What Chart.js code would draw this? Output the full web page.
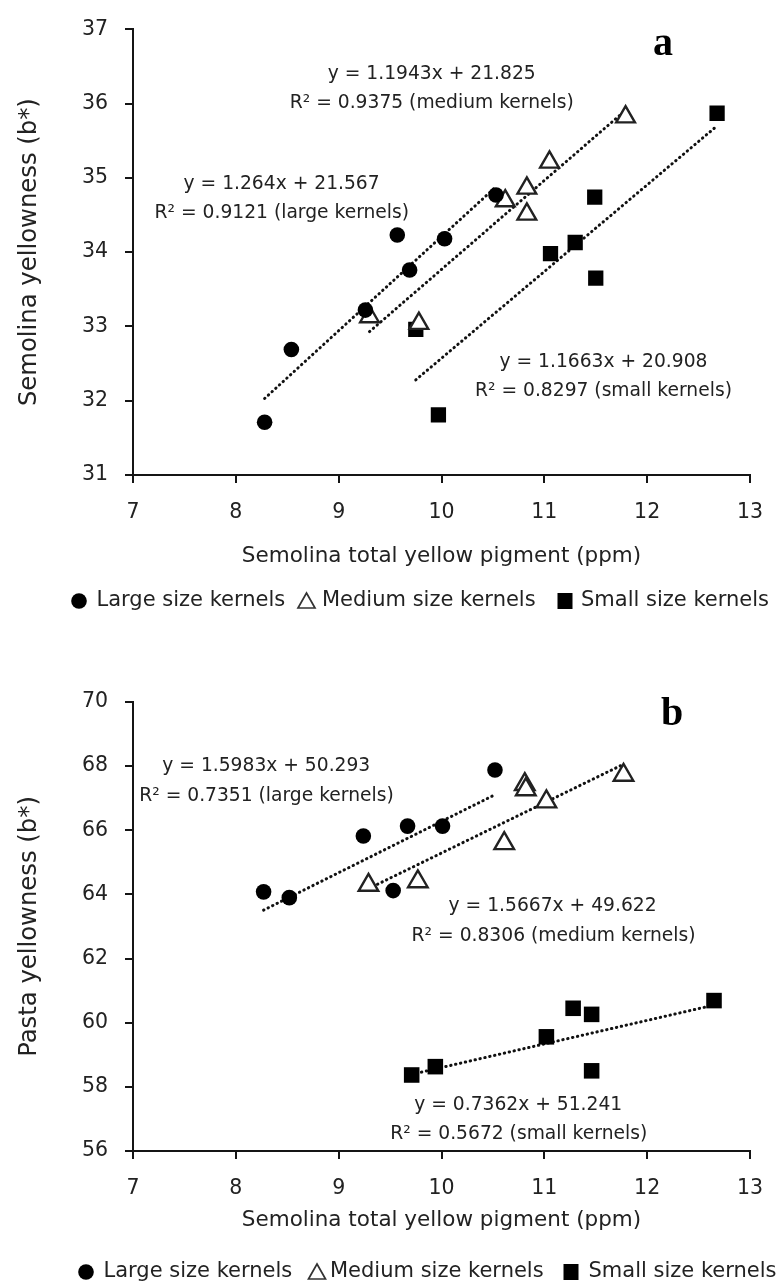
<!DOCTYPE html>
<html>
<head>
<meta charset="utf-8">
<script src="https://cdn.jsdelivr.net/npm/chart.js@4.4.1/dist/chart.umd.min.js"></script>
<style>
html,body{margin:0;padding:0;background:#fff;}
#wrap{position:relative;width:781px;height:1287px;background:#fff;}
canvas{display:block;position:absolute;left:0;}
#c1{top:0;}
#c2{top:640px;}
</style>
</head>
<body>
<div id="wrap">
<canvas id="c1" width="781" height="640"></canvas>
<canvas id="c2" width="781" height="647"></canvas>
</div>
<script>
// ---------- shared labels ----------
const seriesNames = ['Large size kernels', 'Medium size kernels', 'Small size kernels'];
const xTitle = 'Semolina total yellow pigment (ppm)';
const xTicks = [7, 8, 9, 10, 11, 12, 13];

// ---------- panel a : semolina yellowness ----------
const yTitleA = 'Semolina yellowness (b*)';
const yTicksA = [31, 32, 33, 34, 35, 36, 37];
const largeAx  = [8.28, 8.54, 9.26, 9.57, 9.69, 10.03, 10.53];
const largeAy  = [31.71, 32.69, 33.22, 34.23, 33.76, 34.18, 34.77];
const mediumAx = [9.30, 9.78, 10.62, 10.83, 10.83, 11.05, 11.79];
const mediumAy = [33.13, 33.04, 34.69, 34.86, 34.51, 35.21, 35.82];
const smallAx  = [9.75, 9.97, 11.06, 11.30, 11.49, 11.50, 12.68];
const smallAy  = [32.96, 31.81, 33.98, 34.13, 34.74, 33.65, 35.87];
// trendline end points (x, y)
const trendLargeA  = [[8.28, 32.03], [10.53, 34.88]];
const trendMediumA = [[9.30, 32.93], [11.79, 35.91]];
const trendSmallA  = [[9.75, 32.28], [12.68, 35.70]];
const notesA = [
  ['y = 1.1943x + 21.825', 9.905, 36.39],
  ['R\u00B2 = 0.9375 (medium kernels)', 9.905, 36.00],
  ['y = 1.264x + 21.567', 8.445, 34.92],
  ['R\u00B2 = 0.9121 (large kernels)', 8.447, 34.53],
  ['y = 1.1663x + 20.908', 11.575, 32.52],
  ['R\u00B2 = 0.8297 (small kernels)', 11.575, 32.13]
];

// ---------- panel b : pasta yellowness ----------
const yTitleB = 'Pasta yellowness (b*)';
const yTicksB = [56, 58, 60, 62, 64, 66, 68, 70];
const largeBx  = [8.27, 8.52, 9.24, 9.53, 9.67, 10.01, 10.52];
const largeBy  = [64.08, 63.90, 65.82, 64.12, 66.13, 66.13, 67.88];
const mediumBx = [9.29, 9.77, 10.61, 10.81, 10.82, 11.02, 11.77];
const mediumBy = [64.29, 64.40, 65.59, 67.43, 67.27, 66.89, 67.72];
const smallBx  = [9.71, 9.94, 11.02, 11.28, 11.46, 11.46, 12.65];
const smallBy  = [58.37, 58.63, 59.56, 60.45, 60.26, 58.50, 60.69];
const trendLargeB  = [[8.27, 63.51], [10.52, 67.11]];
const trendMediumB = [[9.29, 64.18], [11.77, 68.06]];
const trendSmallB  = [[9.71, 58.39], [12.65, 60.55]];
const notesB = [
  ['y = 1.5983x + 50.293', 8.296, 68.00],
  ['R\u00B2 = 0.7351 (large kernels)', 8.298, 67.07],
  ['y = 1.5667x + 49.622', 11.08, 63.64],
  ['R\u00B2 = 0.8306 (medium kernels)', 11.09, 62.70],
  ['y = 0.7362x + 51.241', 10.746, 57.43],
  ['R\u00B2 = 0.5672 (small kernels)', 10.751, 56.53]
];

// ---------- helpers ----------
const TXT = '#222';
const AX = '#151515';
Chart.defaults.font.family = '"DejaVu Sans", sans-serif';
Chart.defaults.color = TXT;

function pts(xs, ys) { return xs.map((x, i) => ({x: x, y: ys[i]})); }
function seg(p) { return p.map(q => ({x: q[0], y: q[1]})); }

function pointSet(label, data, style, r, bg, bc, bw) {
  return {label, data, pointStyle: style, pointRadius: r, pointHoverRadius: r,
    backgroundColor: bg, borderColor: bc, borderWidth: bw, showLine: false, order: 1};
}
function trendSet(data) {
  return {label: 'trend', data, showLine: true, pointRadius: 0, borderColor: '#111',
    borderWidth: 3, borderDash: [0.4, 4.6], borderCapStyle: 'round', fill: false, order: 2};
}

const panelPlugin = {
  id: 'panelText',
  afterDraw(chart, args, o) {
    const ctx = chart.ctx, sx = chart.scales.x, sy = chart.scales.y;
    ctx.save();
    // regression equations
    ctx.fillStyle = TXT;
    ctx.font = '18.7px "DejaVu Sans"';
    ctx.textAlign = 'center';
    ctx.textBaseline = 'middle';
    o.notes.forEach(n => ctx.fillText(n[0], sx.getPixelForValue(n[1]), sy.getPixelForValue(n[2])));
    // panel letter
    ctx.fillStyle = '#000';
    ctx.font = 'bold 40px "Liberation Serif"';
    ctx.textBaseline = 'alphabetic';
    ctx.fillText(o.letter, o.letterX, o.letterY);
    // legend
    const L = o.legend, ly = L.y;
    ctx.fillStyle = '#000';
    ctx.beginPath(); ctx.arc(L.m[0], ly, 7.8, 0, Math.PI * 2); ctx.fill();
    ctx.strokeStyle = '#333'; ctx.lineWidth = 1.7; ctx.lineJoin = 'miter';
    ctx.beginPath();
    ctx.moveTo(L.m[1], ly - 8); ctx.lineTo(L.m[1] + 8.5, ly + 7); ctx.lineTo(L.m[1] - 8.5, ly + 7); ctx.closePath();
    ctx.stroke();
    ctx.fillRect(L.m[2] - 7.5, ly - 8, 15, 16);
    ctx.fillStyle = TXT;
    ctx.font = '21px "DejaVu Sans"';
    ctx.textAlign = 'left';
    ctx.textBaseline = 'middle';
    seriesNames.forEach((s, i) => ctx.fillText(s, L.t[i], ly));
    ctx.restore();
  }
};

function makeChart(id, cfg) {
  return new Chart(document.getElementById(id), {
    type: 'scatter',
    data: {datasets: cfg.datasets},
    plugins: [panelPlugin],
    options: {
      responsive: false,
      maintainAspectRatio: false,
      animation: false,
      events: [],
      layout: {padding: cfg.padding},
      plugins: {
        legend: {display: false},
        tooltip: {enabled: false},
        panelText: cfg.panel
      },
      scales: {
        x: {
          type: 'linear', min: 7, max: 13,
          afterBuildTicks: s => { s.ticks = xTicks.map(v => ({value: v})); },
          afterFit: s => { s.height = cfg.xHeight; },
          ticks: {font: {size: 20.5}, color: TXT, padding: 17, maxRotation: 0},
          grid: {drawOnChartArea: false, drawTicks: true, tickLength: 8, color: AX, lineWidth: 2},
          border: {display: true, color: AX, width: 2},
          title: {display: true, text: xTitle, color: TXT, font: {size: 21.5},
                  padding: {top: 0, bottom: cfg.xTitlePad}}
        },
        y: {
          type: 'linear', min: cfg.yMin, max: cfg.yMax,
          afterBuildTicks: s => { s.ticks = cfg.yTicks.map(v => ({value: v})); },
          afterFit: s => { s.width = 133; },
          ticks: {font: {size: 20.5}, color: TXT, padding: 17},
          grid: {drawOnChartArea: false, drawTicks: true, tickLength: 8, color: AX, lineWidth: 2},
          border: {display: true, color: AX, width: 2},
          title: {display: true, text: cfg.yTitle, color: TXT, font: {size: 24.3},
                  padding: {top: 15, bottom: 0}}
        }
      }
    }
  });
}

makeChart('c1', {
  datasets: [
    trendSet(seg(trendLargeA)), trendSet(seg(trendMediumA)), trendSet(seg(trendSmallA)),
    pointSet(seriesNames[0], pts(largeAx, largeAy), 'circle', 7.8, '#000', '#000', 0),
    pointSet(seriesNames[1], pts(mediumAx, mediumAy), 'triangle', 10.8, '#fff', '#222', 2.4),
    pointSet(seriesNames[2], pts(smallAx, smallAy), 'rect', 10.8, '#000', '#000', 0)
  ],
  padding: {left: 0, right: 31, top: 19, bottom: 70},
  xHeight: 95, xTitlePad: 1,
  yMin: 31, yMax: 37, yTicks: yTicksA, yTitle: yTitleA,
  panel: {notes: notesA, letter: 'a', letterX: 663, letterY: 55,
          legend: {y: 601, m: [79, 306.5, 565], t: [96.5, 322, 581]}}
});

makeChart('c2', {
  datasets: [
    trendSet(seg(trendLargeB)), trendSet(seg(trendMediumB)), trendSet(seg(trendSmallB)),
    pointSet(seriesNames[0], pts(largeBx, largeBy), 'circle', 7.8, '#000', '#000', 0),
    pointSet(seriesNames[1], pts(mediumBx, mediumBy), 'triangle', 11.3, '#fff', '#222', 2.4),
    pointSet(seriesNames[2], pts(smallBx, smallBy), 'rect', 11, '#000', '#000', 0)
  ],
  padding: {left: 0, right: 31, top: 62, bottom: 51},
  xHeight: 85, xTitlePad: 3,
  yMin: 56, yMax: 70, yTicks: yTicksB, yTitle: yTitleB,
  panel: {notes: notesB, letter: 'b', letterX: 672, letterY: 85,
          legend: {y: 632, m: [86, 317, 571], t: [103.5, 330, 588.5]}}
});
</script>
</body>
</html>
